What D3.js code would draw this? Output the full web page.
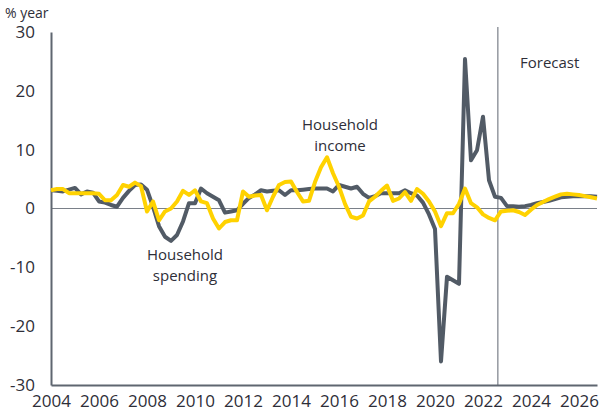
<!DOCTYPE html>
<html><head><meta charset="utf-8">
<script src="https://cdn.jsdelivr.net/npm/d3@7"></script>
<style>body{margin:0;background:#fff}svg{display:block;font-family:"Open Sans","Noto Sans",sans-serif}</style>
</head><body><svg id="c" width="600" height="419"></svg>
<script>
const startYear = 2004;
const quarterStep = 0.25;
const spending = [3.1,3.0,2.9,3.2,3.5,2.4,2.9,2.7,1.2,1.0,0.6,0.3,1.8,3.0,4.0,4.1,3.2,0.3,-3.0,-4.8,-5.5,-4.5,-2.2,0.9,0.9,3.4,2.6,2.0,1.4,-0.7,-0.5,-0.3,0.8,1.8,2.4,3.1,2.9,3.0,3.1,2.3,3.1,3.1,3.2,3.3,3.4,3.4,3.4,2.9,4.0,3.7,3.4,3.7,2.5,1.8,2.1,2.6,2.6,2.6,2.6,3.1,2.6,2.2,1.0,-1.0,-3.5,-26.0,-11.6,-12.2,-12.8,25.4,8.2,9.9,15.6,4.8,2.0,1.8,0.4,0.4,0.3,0.4,0.6,0.9,1.1,1.3,1.6,1.9,2.0,2.1,2.1,2.1,2.1,2.0];
const income = [3.1,3.3,3.3,2.6,2.6,2.6,2.6,2.6,2.5,1.4,1.4,2.3,4.0,3.7,4.4,3.8,-0.5,1.2,-2.0,-0.5,0.0,1.2,3.0,2.3,3.1,1.2,0.9,-1.7,-3.4,-2.3,-2.0,-2.0,2.9,2.0,2.2,2.3,-0.3,2.0,4.0,4.5,4.6,2.8,1.2,1.3,4.5,7.0,8.7,6.0,3.7,0.8,-1.4,-1.7,-1.2,1.2,2.0,3.0,3.9,1.3,1.7,2.8,1.3,3.3,2.5,1.2,-0.5,-3.0,-0.8,-0.8,0.8,3.4,0.9,0.2,-1.0,-1.6,-2.0,-0.5,-0.4,-0.3,-0.6,-1.1,-0.2,0.6,1.1,1.6,2.0,2.4,2.5,2.4,2.3,2.1,1.9,1.7];
const yTicks = [-30,-20,-10,0,10,20,30];
const xTicks = [2004,2006,2008,2010,2012,2014,2016,2018,2020,2022,2024,2026];
const forecastStart = 2022.62;
const labels = {unit:"% year", spending:["Household","spending"], income:["Household","income"], forecast:"Forecast"};

const svg = d3.select("#c");
const lastT = startYear + (spending.length-1)*quarterStep;
const x = d3.scaleLinear().domain([startYear, lastT]).range([51, 597]);
const y = d3.scaleLinear().domain([-30, 30]).range([385, 32]);
const textCol = "#2e2e38", axisCol = "#5f6670";

// zero line
svg.append("line").attr("x1", x(startYear)).attr("x2", 597).attr("y1", y(0)).attr("y2", y(0))
  .attr("stroke", "#7a8089").attr("stroke-width", 1);
// forecast line
svg.append("line").attr("x1", x(forecastStart)).attr("x2", x(forecastStart)).attr("y1", 27).attr("y2", y(-30))
  .attr("stroke", "#5f6670").attr("stroke-width", 1);

// axes
const yAxis = d3.axisLeft(y).tickValues(yTicks).tickSize(0).tickPadding(16).tickFormat(d => String(d));
const gy = svg.append("g").attr("transform", `translate(${x(startYear)},0)`).call(yAxis);
gy.select(".domain").attr("stroke", axisCol).attr("stroke-width", 2);
gy.selectAll("text").attr("font-size", 17).attr("fill", textCol).attr("font-family", "'Open Sans',sans-serif");

const xAxis = d3.axisBottom(x).tickValues(xTicks).tickSize(0).tickPadding(10).tickFormat(d => String(d));
const gx = svg.append("g").attr("transform", `translate(0,${y(-30)})`).call(xAxis);
gx.select(".domain").attr("stroke", axisCol).attr("stroke-width", 2);
gx.selectAll("text").attr("font-size", 17).attr("fill", textCol).attr("font-family", "'Open Sans',sans-serif");

// lines
const line = d3.line().x((d,i) => x(startYear + i*quarterStep)).y(d => y(d));
svg.append("path").datum(spending).attr("d", line).attr("fill", "none")
  .attr("stroke", "#525b66").attr("stroke-width", 4).attr("stroke-linejoin", "round");
svg.append("path").datum(income).attr("d", line).attr("fill", "none")
  .attr("stroke", "#ffd200").attr("stroke-width", 4).attr("stroke-linejoin", "round");

// text
svg.append("text").attr("x", 5).attr("y", 18).attr("font-size", 14).attr("fill", textCol).text(labels.unit);
const ann = (lines, cx, y0) => {
  const t = svg.append("text").attr("text-anchor", "middle").attr("font-size", 15).attr("fill", textCol);
  lines.forEach((s, i) => t.append("tspan").attr("x", cx).attr("y", y0 + i*21).text(s));
};
ann(labels.spending, 185, 260);
ann(labels.income, 340, 130);
svg.append("text").attr("x", 520).attr("y", 68).attr("font-size", 15).attr("fill", textCol).text(labels.forecast);
</script></body></html>
